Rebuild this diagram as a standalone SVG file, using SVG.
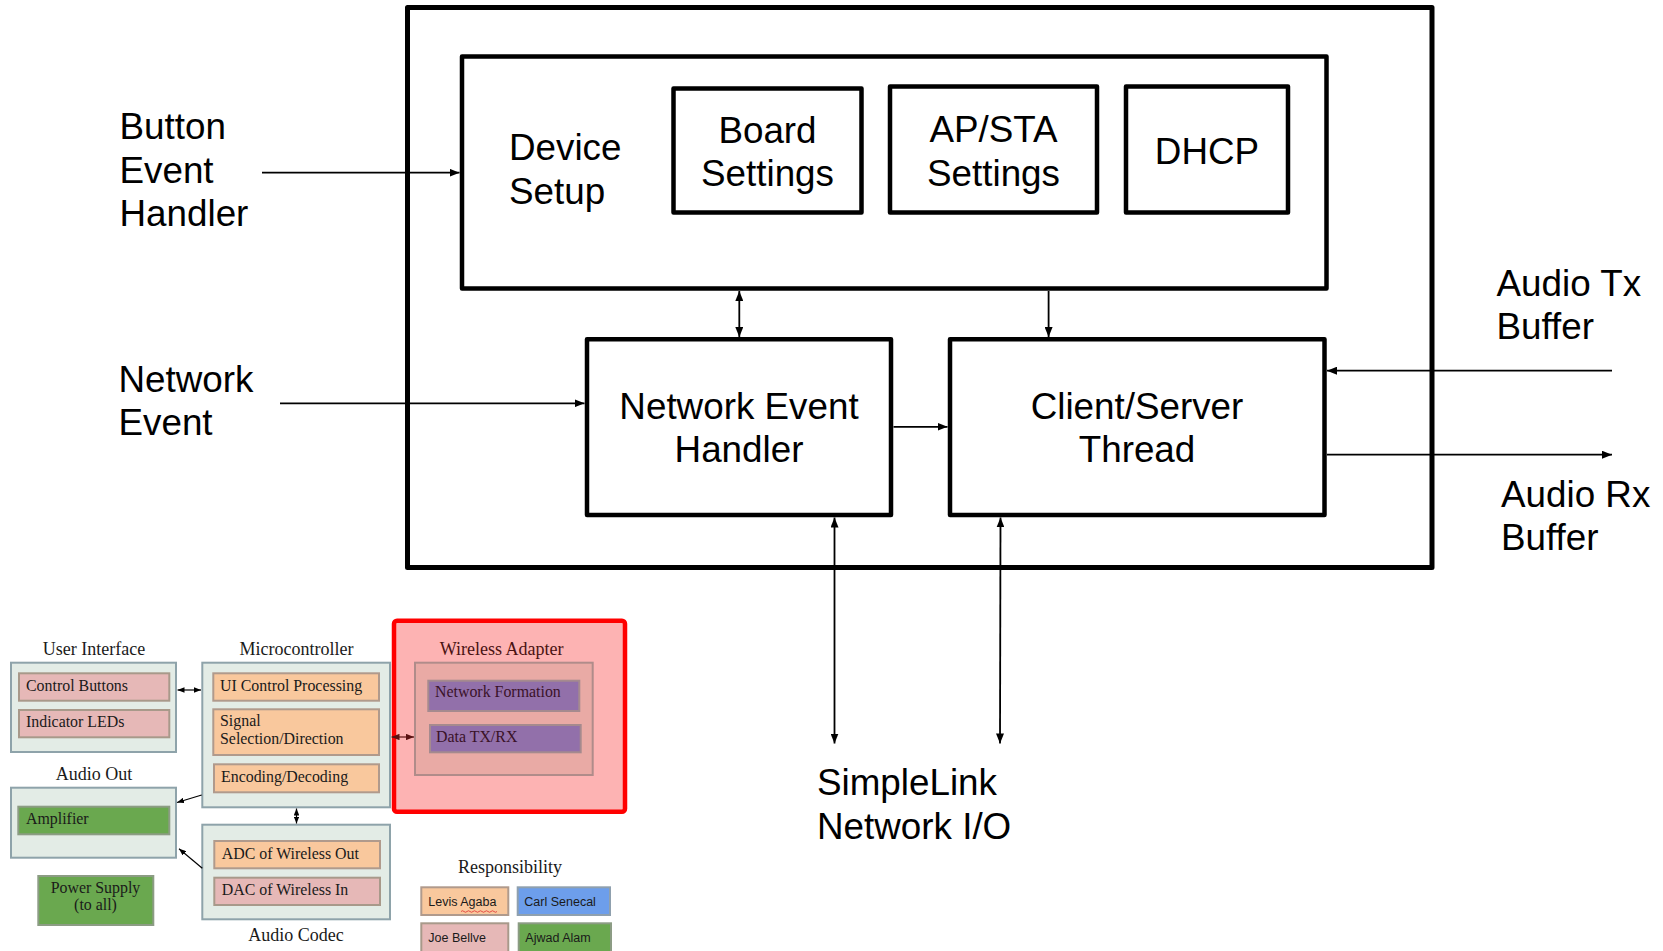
<svg xmlns="http://www.w3.org/2000/svg" width="1663" height="951" viewBox="0 0 1663 951">
  <style>
    .box { fill: #ffffff; stroke: #000000; stroke-width: 4.5; stroke-linejoin: round; }
    .outer { fill: #ffffff; stroke: #000000; stroke-width: 5; stroke-linejoin: round; }
    .lbl { font-family: "Liberation Sans", Arial, sans-serif; font-size: 36.8px; fill: #000000; }
    .mid { text-anchor: middle; }
    .wire { stroke: #000000; stroke-width: 1.8; fill: none; }
    .thin { stroke: #000000; stroke-width: 1.2; fill: none; }
    .grp { fill: #e3ece6; stroke: #8ea3aa; stroke-width: 2; }
    .pink { fill: #e6b8b7; stroke: #a8998a; stroke-width: 2; }
    .peach { fill: #f9c89d; stroke: #b09a8c; stroke-width: 2; }
    .green { fill: #6aa84f; stroke: #8c9c84; stroke-width: 2; }
    .purple { fill: #9270aa; stroke: #a58a8e; stroke-width: 2; }
    .blue { fill: #6d9eeb; stroke: #8fa0ae; stroke-width: 2; }
    .serif { font-family: "Liberation Serif", "Times New Roman", serif; font-size: 15.9px; fill: #1a1a1a; }
    .head { font-family: "Liberation Serif", "Times New Roman", serif; font-size: 18px; fill: #1a1a1a; text-anchor: middle; }
    .legend { font-family: "Liberation Sans", Arial, sans-serif; font-size: 12.5px; fill: #1a1a1a; }
  </style>
  <defs>
    <marker id="arr" viewBox="0 0 10 8" refX="10" refY="4" markerWidth="10" markerHeight="8" markerUnits="userSpaceOnUse" orient="auto-start-reverse">
      <path d="M0,0 L10,4 L0,8 z" fill="#000000"/>
    </marker>
    <marker id="arrSmall" viewBox="0 0 10 8" refX="10" refY="4" markerWidth="7" markerHeight="5.6" markerUnits="userSpaceOnUse" orient="auto-start-reverse">
      <path d="M0,0 L10,4 L0,8 z" fill="#000000"/>
    </marker>
    <marker id="arrRed" viewBox="0 0 10 8" refX="10" refY="4" markerWidth="8" markerHeight="6.4" markerUnits="userSpaceOnUse" orient="auto-start-reverse">
      <path d="M0,0 L10,4 L0,8 z" fill="#5a1212"/>
    </marker>
  </defs>

  <rect width="1663" height="951" fill="#ffffff"/>

  <!-- firmware block -->
  <g id="firmware">
    <rect class="outer" x="407.5" y="7.5" width="1024.5" height="560"/>
  </g>

  <g id="device-setup">
    <rect class="box" x="462" y="56.5" width="864.5" height="232"/>
    <text class="lbl" x="509" y="160">Device</text>
    <text class="lbl" x="509" y="203.5">Setup</text>
  </g>

  <g id="board-settings">
    <rect class="box" x="673.5" y="88.5" width="188" height="124"/>
    <text class="lbl mid" x="767.5" y="142.5">Board</text>
    <text class="lbl mid" x="767.5" y="185.5">Settings</text>
  </g>

  <g id="ap-sta-settings">
    <rect class="box" x="890" y="86.5" width="207" height="126"/>
    <text class="lbl mid" x="993.5" y="141.5">AP/STA</text>
    <text class="lbl mid" x="993.5" y="185.5">Settings</text>
  </g>

  <g id="dhcp">
    <rect class="box" x="1126" y="86.5" width="162" height="126"/>
    <text class="lbl mid" x="1207" y="163.5">DHCP</text>
  </g>

  <g id="network-event-handler">
    <rect class="box" x="587" y="339.3" width="304" height="175.7"/>
    <text class="lbl mid" x="739" y="418.5">Network Event</text>
    <text class="lbl mid" x="739" y="462">Handler</text>
  </g>

  <g id="client-server-thread">
    <rect class="box" x="950" y="339.3" width="374.5" height="175.7"/>
    <text class="lbl mid" x="1137" y="418.5">Client/Server</text>
    <text class="lbl mid" x="1137" y="462">Thread</text>
  </g>

  <g id="button-event-handler">
    <text class="lbl" x="119.5" y="139">Button</text>
    <text class="lbl" x="119.5" y="182.5">Event</text>
    <text class="lbl" x="119.5" y="226">Handler</text>
  </g>

  <g id="network-event">
    <text class="lbl" x="118.5" y="391.5">Network</text>
    <text class="lbl" x="118.5" y="435">Event</text>
  </g>

  <g id="audio-tx-buffer">
    <text class="lbl" x="1496.5" y="295.5">Audio Tx</text>
    <text class="lbl" x="1496.5" y="339">Buffer</text>
  </g>

  <g id="audio-rx-buffer">
    <text class="lbl" x="1501" y="506.5">Audio Rx</text>
    <text class="lbl" x="1501" y="550">Buffer</text>
  </g>

  <g id="simplelink-io">
    <text class="lbl" x="817" y="795">SimpleLink</text>
    <text class="lbl" x="817" y="838.5">Network I/O</text>
  </g>

  <!-- firmware connectors -->
  <g id="connectors">
    <line class="wire" x1="262" y1="172.7" x2="459.5" y2="172.7" marker-end="url(#arr)"/>
    <line class="wire" x1="280" y1="403.3" x2="584.5" y2="403.3" marker-end="url(#arr)"/>
    <line class="wire" x1="739.3" y1="291" x2="739.3" y2="337" marker-start="url(#arr)" marker-end="url(#arr)"/>
    <line class="wire" x1="1048.6" y1="291" x2="1048.6" y2="337" marker-end="url(#arr)"/>
    <line class="wire" x1="893.5" y1="426.8" x2="947.5" y2="426.8" marker-end="url(#arr)"/>
    <line class="wire" x1="1612" y1="370.7" x2="1327" y2="370.7" marker-end="url(#arr)"/>
    <line class="wire" x1="1327" y1="454.7" x2="1612" y2="454.7" marker-end="url(#arr)"/>
    <line class="wire" x1="834.5" y1="517.5" x2="834.5" y2="743.5" marker-start="url(#arr)" marker-end="url(#arr)"/>
    <line class="wire" x1="1000.5" y1="517.5" x2="1000" y2="743.5" marker-start="url(#arr)" marker-end="url(#arr)"/>
  </g>

  <!-- hardware overview -->
  <g id="user-interface">
    <text class="head" x="94" y="655">User Interface</text>
    <rect class="grp" x="11" y="662.7" width="165" height="89.3"/>
    <rect class="pink" x="19" y="673.3" width="150.3" height="27.4"/>
    <text class="serif" x="26" y="690.7">Control Buttons</text>
    <rect class="pink" x="19" y="710" width="150.3" height="27.3"/>
    <text class="serif" x="26" y="727.3">Indicator LEDs</text>
  </g>

  <g id="microcontroller">
    <text class="head" x="296.5" y="655">Microcontroller</text>
    <rect class="grp" x="202.3" y="662.7" width="187.7" height="144.6"/>
    <rect class="peach" x="213.3" y="673.3" width="165.7" height="27.4"/>
    <text class="serif" x="220" y="690.7">UI Control Processing</text>
    <rect class="peach" x="213.3" y="709.3" width="165.7" height="45.7"/>
    <text class="serif" x="220" y="726">Signal</text>
    <text class="serif" x="220" y="744">Selection/Direction</text>
    <rect class="peach" x="214" y="764.3" width="165" height="28"/>
    <text class="serif" x="221" y="781.7">Encoding/Decoding</text>
  </g>

  <g id="audio-out">
    <text class="head" x="94" y="780">Audio Out</text>
    <rect class="grp" x="11" y="787.7" width="165" height="70"/>
    <rect class="green" x="18.3" y="806.7" width="151" height="27.6"/>
    <text class="serif" x="26" y="824">Amplifier</text>
  </g>

  <g id="power-supply">
    <rect class="green" x="38.3" y="876" width="115" height="49"/>
    <text class="serif" x="95.5" y="892.7" text-anchor="middle">Power Supply</text>
    <text class="serif" x="95.5" y="910" text-anchor="middle">(to all)</text>
  </g>

  <g id="audio-codec">
    <rect class="grp" x="202.3" y="824.7" width="187.7" height="94.6"/>
    <rect class="peach" x="214.3" y="841" width="165.7" height="27.3"/>
    <text class="serif" x="221.7" y="858.7">ADC of Wireless Out</text>
    <rect class="pink" x="214.3" y="877.7" width="165.7" height="27.3"/>
    <text class="serif" x="221.7" y="895">DAC of Wireless In</text>
    <text class="head" x="296" y="940.7">Audio Codec</text>
  </g>

  <g id="wireless-adapter">
    <rect x="394" y="620.7" width="231" height="191" rx="3" fill="#fdb3b3" stroke="#ff0000" stroke-width="4.5"/>
    <text class="head" x="501.7" y="655" style="fill:#4a1212">Wireless Adapter</text>
    <rect x="415" y="662.7" width="177.7" height="112.3" fill="#e9aaa5" stroke="#b08c8a" stroke-width="2"/>
    <rect class="purple" x="428.3" y="680.7" width="151" height="30.3"/>
    <text class="serif" x="435" y="697.3" style="fill:#3a1228">Network Formation</text>
    <rect class="purple" x="430" y="725" width="150.7" height="27.3"/>
    <text class="serif" x="436" y="741.7" style="fill:#3a1228">Data TX/RX</text>
  </g>

  <g id="responsibility">
    <text class="head" x="510" y="872.7">Responsibility</text>
    <rect class="peach" x="421.3" y="887.3" width="87" height="27.7"/>
    <text class="legend" x="428.3" y="906">Levis Agaba</text>
    <path d="M461,911.5 q1.5,-1.5 3,0 t3,0 t3,0 t3,0 t3,0 t3,0 t3,0 t3,0 t3,0 t3,0 t3,0 t3,0" fill="none" stroke="#e03030" stroke-width="0.8"/>
    <rect class="blue" x="517.7" y="887.3" width="92.3" height="27.7"/>
    <text class="legend" x="524.3" y="906">Carl Senecal</text>
    <rect class="pink" x="421.3" y="923.3" width="87" height="30"/>
    <text class="legend" x="428.3" y="942">Joe Bellve</text>
    <rect class="green" x="518.7" y="923.3" width="92.3" height="30"/>
    <text class="legend" x="525.3" y="942">Ajwad Alam</text>
  </g>

  <!-- hardware connectors -->
  <g id="hw-connectors">
    <line class="thin" x1="177.5" y1="690" x2="201" y2="690" marker-start="url(#arrSmall)" marker-end="url(#arrSmall)"/>
    <line class="thin" x1="201.7" y1="795" x2="177" y2="802.5" marker-end="url(#arrSmall)"/>
    <line class="thin" x1="202.3" y1="868.3" x2="179" y2="848.7" marker-end="url(#arrSmall)"/>
    <line class="thin" x1="296.5" y1="808.5" x2="296.5" y2="823.5" marker-start="url(#arrSmall)" marker-end="url(#arrSmall)"/>
    <line x1="391.5" y1="737" x2="414" y2="737" stroke="#5a1212" stroke-width="1.2" marker-start="url(#arrRed)" marker-end="url(#arrRed)"/>
  </g>
</svg>
